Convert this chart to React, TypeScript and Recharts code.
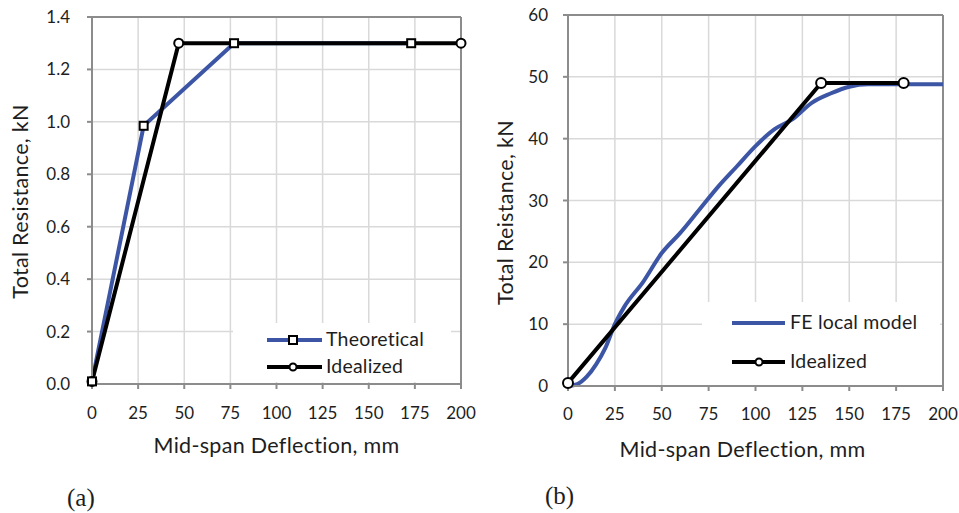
import { LineChart, Line, XAxis, YAxis, CartesianGrid, Legend, ReferenceLine } from 'recharts'

// panel (a): theoretical vs idealized resistance
const theoreticalX = [0, 28, 77, 173]
const theoreticalY = [0.01, 0.985, 1.3, 1.3]
const idealizedAX = [0, 47, 200]
const idealizedAY = [0.01, 1.3, 1.3]

// panel (b): FE local model vs idealized
const feX = [0, 5, 10, 15, 20, 25, 30, 40, 50, 60, 70, 80, 90, 100, 110, 120, 130, 140, 150, 160, 180, 200]
const feY = [0, 0.3, 1.5, 3.5, 6.2, 10, 12.8, 16.8, 21.5, 24.8, 28.5, 32.2, 35.5, 38.8, 41.5, 43.2, 45.8, 47.3, 48.4, 48.8, 48.8, 48.8]
const idealizedBX = [0, 135, 179]
const idealizedBY = [0.5, 49, 49]

const xTicks = [0, 25, 50, 75, 100, 125, 150, 175, 200]
const yTicksA = [0, 0.2, 0.4, 0.6, 0.8, 1.0, 1.2, 1.4]
const yTicksB = [0, 10, 20, 30, 40, 50, 60]

const FONT = 'Lato, "Open Sans", sans-serif'
const BLUE = '#3c56a5'
const AXIS = '#8c8c8c'
const GRID = '#d9d9d9'
const TEXT = '#1e1e1e'

const toPoints = (xs: number[], ys: number[]) => xs.map((x, i) => ({ x, y: ys[i] }))

const Square = (props: any) => {
  const { cx, cy, index } = props
  if (cx == null || cy == null) return <g key={index} />
  return <rect key={index} x={cx - 4} y={cy - 4} width={8} height={8} fill="#fff" stroke="#000" strokeWidth={2} />
}

// rotated y label, bx = baseline x inside the axis box, dy = shift from the axis middle
const YLabel = (props: any) => {
  const { viewBox, value, bx, dy } = props
  const x = viewBox.x + bx
  const y = viewBox.y + viewBox.height / 2 + dy
  return (
    <text x={x} y={y} transform={`rotate(-90, ${x}, ${y})`} textAnchor="middle"
      fontFamily={FONT} fontSize={21.5} letterSpacing={0.3} fill={TEXT}>
      {value}
    </text>
  )
}

// x label, by = baseline below the axis line
const XLabel = (props: any) => {
  const { viewBox, value, by, dx } = props
  const x = viewBox.x + viewBox.width / 2 + dx
  return (
    <text x={x} y={viewBox.y + by} textAnchor="middle" fontFamily={FONT} fontSize={21.5} letterSpacing={0.3} fill={TEXT}>
      {value}
    </text>
  )
}

const legendText = { fontFamily: FONT, fontSize: 19.5, fill: TEXT, letterSpacing: 0.2 }

const LegendA = () => (
  <svg width={218} height={59} style={{ display: 'block' }}>
    <line x1={34} x2={89} y1={17} y2={17} stroke={BLUE} strokeWidth={4} />
    <rect x={56} y={13} width={8} height={8} fill="#fff" stroke="#000" strokeWidth={2} />
    <text x={93} y={23} {...legendText}>Theoretical</text>
    <line x1={34} x2={89} y1={44} y2={44} stroke="#000" strokeWidth={4} />
    <circle cx={60} cy={44} r={3.5} fill="#fff" stroke="#000" strokeWidth={2} />
    <text x={93} y={50} {...legendText}>Idealized</text>
  </svg>
)

const LegendB = () => (
  <svg width={238} height={83} style={{ display: 'block' }}>
    <line x1={30} x2={83} y1={21} y2={21} stroke={BLUE} strokeWidth={4} />
    <text x={88} y={27} {...legendText}>FE local model</text>
    <line x1={30} x2={83} y1={60} y2={60} stroke="#000" strokeWidth={4} />
    <circle cx={57} cy={60} r={3.5} fill="#fff" stroke="#000" strokeWidth={2} />
    <text x={88} y={66} {...legendText}>Idealized</text>
  </svg>
)

const tickStyle = { fill: TEXT, fontSize: 17, fontFamily: FONT }

const PanelA = () => (
  <LineChart width={480} height={513} margin={{ top: 17, right: 19, left: 0, bottom: 49 }}>
    <CartesianGrid stroke={GRID} strokeWidth={1.5} />
    <XAxis
      type="number"
      dataKey="x"
      domain={[0, 200]}
      ticks={xTicks}
      height={80}
      axisLine={{ stroke: AXIS, strokeWidth: 2 }}
      tickLine={{ stroke: AXIS, strokeWidth: 2 }}
      tickSize={5}
      tickMargin={18}
      tick={tickStyle}
      label={<XLabel value="Mid-span Deflection, mm" by={69} dx={0} />}
    />
    <YAxis
      type="number"
      dataKey="y"
      domain={[0, 1.4]}
      ticks={yTicksA}
      width={92}
      tickFormatter={(v: number) => v.toFixed(1)}
      axisLine={{ stroke: AXIS, strokeWidth: 2 }}
      tickLine={{ stroke: AXIS, strokeWidth: 2 }}
      tickSize={5}
      tickMargin={17}
      tick={tickStyle}
      label={<YLabel value="Total Resistance, kN" bx={28} dy={1} />}
    />
    <ReferenceLine y={1.4} stroke={AXIS} strokeWidth={2} />
    <ReferenceLine x={200} stroke={AXIS} strokeWidth={2} />
    <Line data={toPoints(theoreticalX, theoreticalY)} dataKey="y" stroke={BLUE} strokeWidth={4} dot={false} isAnimationActive={false} />
    <Line data={toPoints(idealizedAX, idealizedAY)} dataKey="y" stroke="#000" strokeWidth={4} dot={{ r: 4.5, fill: '#fff', stroke: '#000', strokeWidth: 2 }} isAnimationActive={false} />
    <Line data={toPoints(theoreticalX, theoreticalY)} dataKey="y" stroke="none" dot={Square} isAnimationActive={false} legendType="none" />
    <Legend
      layout="horizontal"
      verticalAlign="middle"
      align="center"
      wrapperStyle={{ left: 233, top: 323, width: 218, height: 59, background: '#fff' }}
      content={() => <LegendA />}
    />
  </LineChart>
)

const PanelB = () => (
  <LineChart width={479} height={513} margin={{ top: 15, right: 16, left: 0, bottom: 47 }}>
    <CartesianGrid stroke={GRID} strokeWidth={1.5} />
    <XAxis
      type="number"
      dataKey="x"
      domain={[0, 200]}
      ticks={xTicks}
      height={80}
      axisLine={{ stroke: AXIS, strokeWidth: 2 }}
      tickLine={{ stroke: AXIS, strokeWidth: 2 }}
      tickSize={5}
      tickMargin={17}
      tick={tickStyle}
      label={<XLabel value="Mid-span Deflection, mm" by={71} dx={-13} />}
    />
    <YAxis
      type="number"
      dataKey="y"
      domain={[0, 60]}
      ticks={yTicksB}
      width={88}
      axisLine={{ stroke: AXIS, strokeWidth: 2 }}
      tickLine={{ stroke: AXIS, strokeWidth: 2 }}
      tickSize={5}
      tickMargin={15}
      tick={tickStyle}
      label={<YLabel value="Total Reistance, kN" bx={33} dy={12} />}
    />
    <ReferenceLine y={60} stroke={AXIS} strokeWidth={2} />
    <ReferenceLine x={200} stroke={AXIS} strokeWidth={2} />
    <Line data={toPoints(feX, feY)} dataKey="y" type="monotone" stroke={BLUE} strokeWidth={4} dot={false} isAnimationActive={false} />
    <Line data={toPoints(idealizedBX, idealizedBY)} dataKey="y" stroke="#000" strokeWidth={4} dot={{ r: 5, fill: '#fff', stroke: '#000', strokeWidth: 2 }} isAnimationActive={false} />
    <Legend
      layout="horizontal"
      verticalAlign="middle"
      align="center"
      wrapperStyle={{ left: 222, top: 302, width: 238, height: 83, background: '#fff' }}
      content={() => <LegendB />}
    />
  </LineChart>
)

export default function App() {
  return (
    <div style={{ position: 'absolute', left: 0, top: 0, width: 959, height: 513, background: '#fff' }}>
      <div style={{ position: 'absolute', left: 0, top: 0 }}>
        <PanelA />
      </div>
      <div style={{ position: 'absolute', left: 480, top: 0 }}>
        <PanelB />
      </div>
      <div style={{ position: 'absolute', left: 67, top: 484, fontFamily: '"Liberation Serif", serif', fontSize: 25, color: TEXT }}>(a)</div>
      <div style={{ position: 'absolute', left: 545, top: 482, fontFamily: '"Liberation Serif", serif', fontSize: 25, color: TEXT }}>(b)</div>
    </div>
  )
}
